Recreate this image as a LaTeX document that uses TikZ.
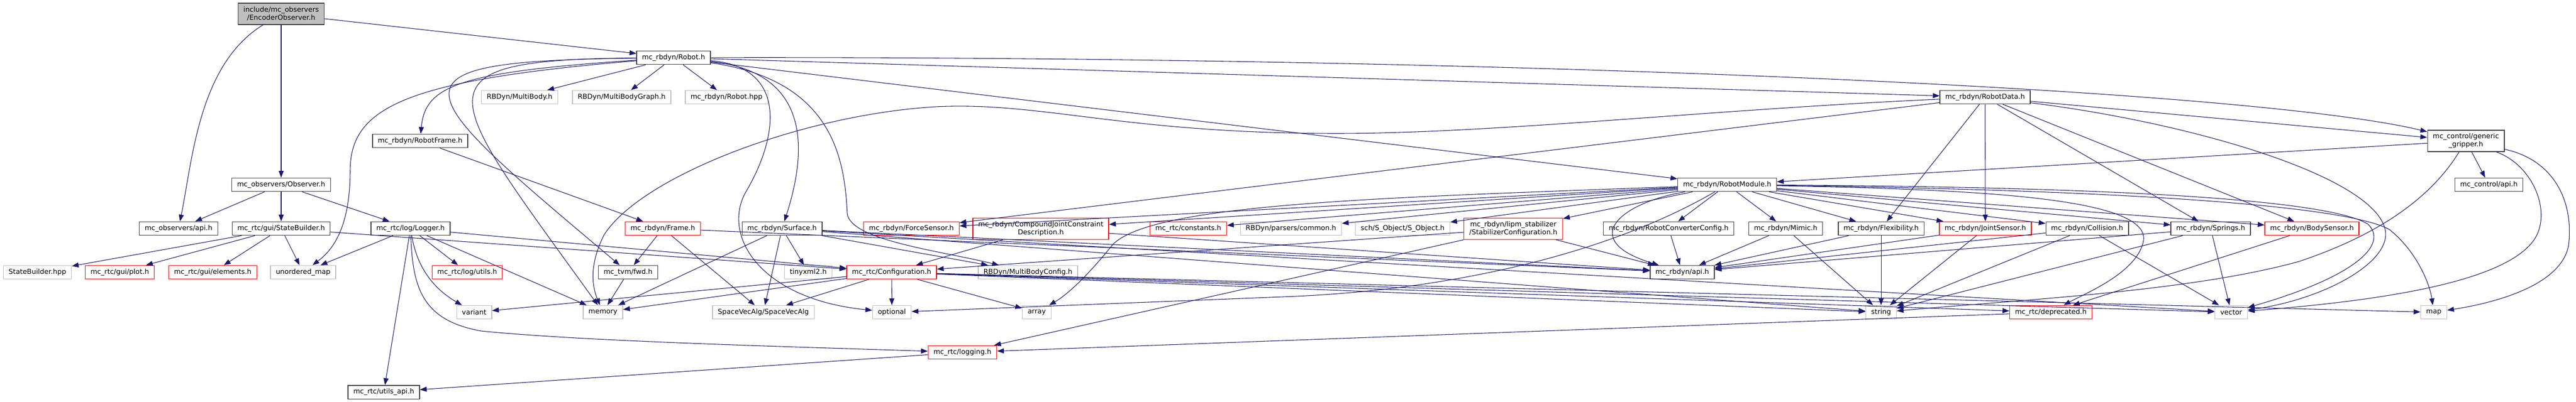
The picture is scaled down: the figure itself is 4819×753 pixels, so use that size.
\documentclass[tikz,border=0pt]{standalone}
\usepackage{fontspec}
\setmainfont{DejaVu Sans}
\usetikzlibrary{arrows.meta}
\definecolor{edgeblue}{RGB}{25,25,112}
\definecolor{darkbox}{RGB}{64,64,64}
\definecolor{lightbox}{RGB}{191,191,191}
\definecolor{rootfill}{RGB}{191,191,191}
\definecolor{truncred}{RGB}{255,0,0}
\tikzset{
  >={Triangle[length=9.5pt,width=7pt]},
  hdr/.style={draw=darkbox,line width=1pt,fill=white,inner xsep=7.5pt,inner ysep=1pt,
    minimum height=19pt,align=center,font=\fontsize{9.7}{11.25}\selectfont},
  local/.style={hdr},
  sys/.style={hdr,draw=lightbox},
  trunc/.style={hdr,draw=truncred},
  root/.style={hdr,fill=rootfill},
  tall/.style={minimum height=30pt},
  incl/.style={->,draw=edgeblue,line width=0.8pt}
}
\begin{document}
\begin{tikzpicture}[x=0.75pt,y=-0.75pt]
\useasboundingbox (0,0) rectangle (4819,753);

\node[root,tall] (enc) at (526,26) {include/mc\_observers\\/EncoderObserver.h};
\node[local] (obs) at (526,346) {mc\_observers/Observer.h};
\node[local] (robot) at (1260,108) {mc\_rbdyn/Robot.h};
\node[local] (obsapi) at (334,428) {mc\_observers/api.h};
\node[local] (sb) at (526,428) {mc\_rtc/gui/StateBuilder.h};
\node[local] (logger) at (768,428) {mc\_rtc/log/Logger.h};
\node[local] (rframe) at (786,264) {mc\_rbdyn/RobotFrame.h};
\node[sys] (sbhpp) at (70,510) {StateBuilder.hpp};
\node[trunc] (plot) at (224,510) {mc\_rtc/gui/plot.h};
\node[trunc] (elements) at (398,510) {mc\_rtc/gui/elements.h};
\node[sys] (umap) at (567,510) {unordered\_map};
\node[local] (utilsapi) at (718,734.5) {mc\_rtc/utils\_api.h};
\node[trunc] (logutils) at (874,510) {mc\_rtc/log/utils.h};
\node[sys] (mb) at (972,182) {RBDyn/MultiBody.h};
\node[sys] (mbg) at (1163,182) {RBDyn/MultiBodyGraph.h};
\node[sys] (rhpp) at (1359,182) {mc\_rbdyn/Robot.hpp};
\node[trunc] (frame) at (1240,428) {mc\_rbdyn/Frame.h};
\node[local] (tvm) at (1175,510) {mc\_tvm/fwd.h};
\node[local] (surface) at (1463,428) {mc\_rbdyn/Surface.h};
\node[sys] (tinyxml) at (1512,510) {tinyxml2.h};
\node[trunc] (config) at (1668,510) {mc\_rtc/Configuration.h};
\node[sys] (variant) at (887,585) {variant};
\node[sys] (memory) at (1128,585) {memory};
\node[sys] (sva) at (1428,585) {SpaceVecAlg/SpaceVecAlg};
\node[trunc] (fsensor) at (1705,428) {mc\_rbdyn/ForceSensor.h};
\node[trunc,tall] (cjc) at (1947,428.5) {mc\_rbdyn/CompoundJointConstraint\\Description.h};
\node[trunc] (constants) at (2223,428) {mc\_rtc/constants.h};
\node[sys] (common) at (2415,428) {RBDyn/parsers/common.h};
\node[sys] (mbc) at (1923,510) {RBDyn/MultiBodyConfig.h};
\node[sys] (optional) at (1668.5,585) {optional};
\node[sys] (array) at (1939.5,585) {array};
\node[trunc] (logging) at (1800.5,660) {mc\_rtc/logging.h};
\node[sys] (sobject) at (2624,428) {sch/S\_Object/S\_Object.h};
\node[trunc,tall] (stab) at (2831,428.5) {mc\_rbdyn/lipm\_stabilizer\\/StabilizerConfiguration.h};
\node[local] (rcc) at (3121.6,428) {mc\_rbdyn/RobotConverterConfig.h};
\node[local] (api) at (3147,510) {mc\_rbdyn/api.h};
\node[local] (rmodule) at (3231,346) {mc\_rbdyn/RobotModule.h};
\node[local] (rdata) at (3713.5,182) {mc\_rbdyn/RobotData.h};
\node[local] (mimic) at (3340.5,428) {mc\_rbdyn/Mimic.h};
\node[local] (flex) at (3519,428) {mc\_rbdyn/Flexibility.h};
\node[trunc] (jsensor) at (3714,428) {mc\_rbdyn/JointSensor.h};
\node[local] (collision) at (3904.5,428) {mc\_rbdyn/Collision.h};
\node[sys] (string) at (3519,585) {string};
\node[trunc] (deprecated) at (3836.5,585) {mc\_rtc/deprecated.h};
\node[local,tall] (gripper) at (4613,264) {mc\_control/generic\\\_gripper.h};
\node[local] (ctlapi) at (4656,346) {mc\_control/api.h};
\node[local] (springs) at (4135.5,428) {mc\_rbdyn/Springs.h};
\node[trunc] (bsensor) at (4325,428) {mc\_rbdyn/BodySensor.h};
\node[sys] (vector) at (4174,585) {vector};
\node[sys] (map) at (4553,585) {map};

\draw[incl] (enc) -- (obs);
\draw[incl] (enc) -- (robot);
\draw[incl] (enc) .. controls (372,120) and (360,300) .. (obsapi);

\draw[incl] (obs) -- (obsapi);
\draw[incl] (obs) -- (sb);
\draw[incl] (obs) -- (logger);

\draw[incl] (sb) -- (sbhpp);
\draw[incl] (sb) -- (plot);
\draw[incl] (sb) -- (elements);
\draw[incl] (sb) -- (umap);
\draw[incl] (sb) -- (config);

\draw[incl] (logger) -- (umap);
\draw[incl] (logger) -- (logutils);
\draw[incl] (logger) -- (memory);
\draw[incl] (logger) -- (utilsapi);
\draw[incl] (logger) -- (config);
\draw[incl] (logger) .. controls (780,500) and (810,540) .. (variant);
\draw[incl] (logger) .. controls (772,540) and (790,600) .. (900,620) .. controls (1100,640) and (1500,650) .. (logging);

\draw[incl] (robot) -- (mb);
\draw[incl] (robot) -- (mbg);
\draw[incl] (robot) -- (rhpp);
\draw[incl] (robot) -- (rdata);
\draw[incl] (robot) -- (rmodule);
\draw[incl] (robot) .. controls (2800,105) and (4200,165) .. (gripper);
\draw[incl] (robot) .. controls (860,135) and (795,160) .. (rframe);
\draw[incl] (robot) .. controls (760,150) and (655,200) .. (655,320) .. controls (655,430) and (620,470) .. (umap);
\draw[incl] (robot) .. controls (700,115) and (760,160) .. (tvm);
\draw[incl] (robot) .. controls (760,112) and (830,170) .. (memory);
\draw[incl] (robot) .. controls (1470,130) and (1530,220) .. (surface);
\draw[incl] (robot) .. controls (1470,125) and (1460,250) .. (1395,360) .. controls (1350,440) and (1420,560) .. (optional);
\draw[incl] (robot) .. controls (1560,150) and (1580,300) .. (1585,400) .. controls (1590,450) and (1760,470) .. (mbc);

\draw[incl] (rframe) -- (frame);
\draw[incl] (frame) -- (tvm);
\draw[incl] (frame) -- (sva);
\draw[incl] (frame) -- (api);
\draw[incl] (tvm) -- (memory);

\draw[incl] (surface) -- (memory);
\draw[incl] (surface) -- (sva);
\draw[incl] (surface) -- (tinyxml);
\draw[incl] (surface) -- (mbc);
\draw[incl] (surface) -- (api);
\draw[incl] (surface) -- (string);
\draw[incl] (surface) -- (vector);

\draw[incl] (config) -- (variant);
\draw[incl] (config) -- (memory);
\draw[incl] (config) -- (sva);
\draw[incl] (config) -- (optional);
\draw[incl] (config) -- (array);
\draw[incl] (config) -- (string);
\draw[incl] (config) -- (vector);
\draw[incl] (config) -- (map);
\draw[incl] (config) -- (deprecated);

\draw[incl] (cjc) -- (config);
\draw[incl] (cjc) -- (api);
\draw[incl] (stab) -- (config);
\draw[incl] (stab) -- (logging);
\draw[incl] (stab) -- (api);
\draw[incl] (logging) -- (utilsapi);
\draw[incl] (deprecated) -- (logging);

\draw[incl] (rmodule) -- (fsensor);
\draw[incl] (rmodule) -- (cjc);
\draw[incl] (rmodule) -- (constants);
\draw[incl] (rmodule) -- (common);
\draw[incl] (rmodule) -- (sobject);
\draw[incl] (rmodule) -- (stab);
\draw[incl] (rmodule) -- (rcc);
\draw[incl] (rmodule) -- (mimic);
\draw[incl] (rmodule) -- (flex);
\draw[incl] (rmodule) -- (jsensor);
\draw[incl] (rmodule) -- (collision);
\draw[incl] (rmodule) -- (springs);
\draw[incl] (rmodule) -- (bsensor);
\draw[incl] (rmodule) .. controls (3030,380) and (2950,450) .. (api);
\draw[incl] (rmodule) .. controls (2600,370) and (2150,380) .. (2080,460) .. controls (2040,510) and (2000,550) .. (array);
\draw[incl] (rmodule) .. controls (3000,480) and (2700,545) .. (2400,556) -- (optional);
\draw[incl] (rmodule) .. controls (3700,355) and (4020,370) .. (4010,450) .. controls (4000,510) and (3900,550) .. (deprecated);
\draw[incl] (rmodule) .. controls (3900,350) and (4350,370) .. (4430,420) .. controls (4470,460) and (4400,520) .. (vector);
\draw[incl] (rmodule) .. controls (3900,355) and (4380,380) .. (4470,430) .. controls (4520,470) and (4545,530) .. (map);

\draw[incl] (rdata) -- (fsensor);
\draw[incl] (rdata) -- (flex);
\draw[incl] (rdata) -- (jsensor);
\draw[incl] (rdata) -- (springs);
\draw[incl] (rdata) -- (bsensor);
\draw[incl] (rdata) -- (gripper);
\draw[incl] (rdata) .. controls (3200,205) and (2800,250) .. (2500,250) .. controls (2100,250) and (1950,190) .. (1750,200) .. controls (1500,215) and (1200,330) .. (1130,440) .. controls (1105,490) and (1105,530) .. (memory);
\draw[incl] (rdata) .. controls (4100,230) and (4440,330) .. (4462,430) .. controls (4475,490) and (4350,560) .. (vector);

\draw[incl] (rcc) -- (api);
\draw[incl] (mimic) -- (api);
\draw[incl] (mimic) -- (string);
\draw[incl] (flex) -- (api);
\draw[incl] (flex) -- (string);
\draw[incl] (jsensor) -- (api);
\draw[incl] (jsensor) -- (string);
\draw[incl] (collision) -- (api);
\draw[incl] (collision) -- (string);
\draw[incl] (collision) -- (vector);
\draw[incl] (springs) -- (api);
\draw[incl] (springs) -- (string);
\draw[incl] (springs) -- (vector);
\draw[incl] (bsensor) -- (deprecated);

\draw[incl] (gripper) -- (rmodule);
\draw[incl] (gripper) -- (ctlapi);
\draw[incl] (gripper) .. controls (4560,350) and (4480,430) .. (4300,490) .. controls (4100,545) and (3800,560) .. (string);
\draw[incl] (gripper) .. controls (4740,310) and (4775,400) .. (4740,450) .. controls (4690,520) and (4500,560) .. (vector);
\draw[incl] (gripper) .. controls (4780,300) and (4815,380) .. (4805,460) .. controls (4790,540) and (4650,570) .. (map);
\end{tikzpicture}
\end{document}
